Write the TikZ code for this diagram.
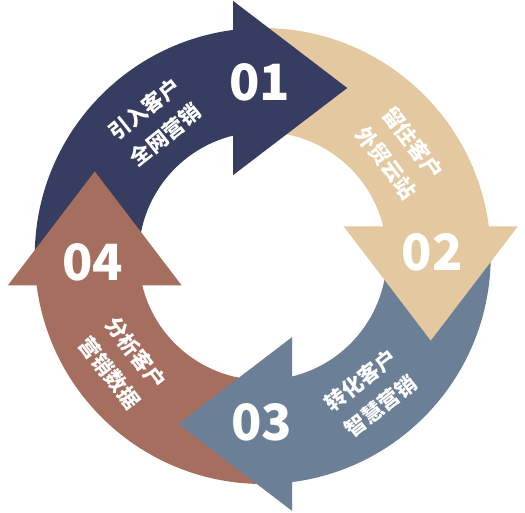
\documentclass[tikz,border=0pt]{standalone}
\usepackage{fontspec}
\newfontfamily\cjk{Noto Sans CJK SC}
\definecolor{navy}{HTML}{363D60}
\definecolor{sand}{HTML}{E4C8A0}
\definecolor{slate}{HTML}{6B7F97}
\definecolor{rust}{HTML}{A56E5F}

\begin{document}
\begin{tikzpicture}[x=1pt,y=1pt,
    number/.style ={text=white, font=\cjk\bfseries\fontsize{50}{50}\selectfont, inner sep=0pt},
    label/.style ={text=white, align=center, inner sep=0pt, font=\cjk\bfseries\fontsize{21}{33}\selectfont}]
   \useasboundingbox (-262.75,-257) rectangle (262.25,256);
   % ring bodies
   \foreach \k/\c in {0/navy,1/sand,2/slate,3/rust}
     \fill[\c,rotate=-90*\k] (180:228) arc (180:95:228) -- (95:124) arc (95:180:124) -- cycle;
   % heads
   \foreach \k/\c in {0/navy,1/sand,2/slate,3/rust}
     \fill[\c,rotate=-90*\k] (-29.5,81) -- (-29.5,255) -- (84.5,168) -- cycle;
   \node[number] (n1) at (-2.75,174) {01};
   \node[number] (n2) at (169.25,4) {02};
   \node[number] (n3) at (-0.75,-166) {03};
   \node[number] (n4) at (-169.75,-6) {04};
   \node[label,rotate=38.8] (t1) at (128.8:172) {引入客户\\全网营销};
   \node[label,rotate=-53] (t2) at (37:171.5) {留住客户\\外贸云站};
   \node[label,rotate=38.2] (t3) at (-51.8:174.6) {转化客户\\智慧营销};
   \node[label,rotate=-52.6] (t4) at (217.4:176) {分析客户\\营销数据};
 \end{tikzpicture}
\end{document}
